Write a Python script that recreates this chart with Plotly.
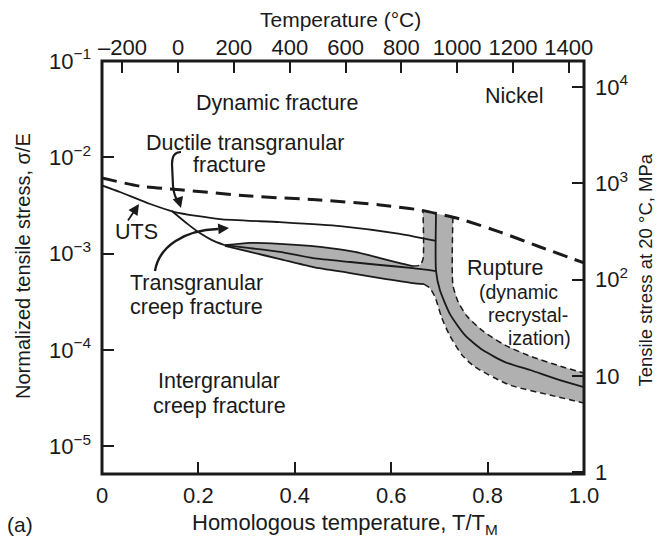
import plotly.graph_objects as go

# ---- values: x = T/T_M, y = sigma/E ----
# dynamic-fracture boundary (thick dashed)
dyn_x = [0.0, 0.079, 0.162, 0.307, 0.452, 0.577, 0.660, 0.743, 0.826, 0.909, 1.0]
dyn_y = [6.1e-3, 5.0e-3, 4.6e-3, 3.95e-3, 3.6e-3, 3.2e-3, 2.83e-3, 2.28e-3, 1.67e-3, 1.17e-3, 8.0e-4]

# UTS line
uts_x = [0.0, 0.037, 0.100, 0.151, 0.245, 0.369, 0.494, 0.618, 0.693]
uts_y = [5.1e-3, 4.36e-3, 3.27e-3, 2.70e-3, 2.28e-3, 2.12e-3, 1.93e-3, 1.60e-3, 1.35e-3]

# steep boundary into transgranular creep
tgc_x = [0.145, 0.178, 0.203, 0.228, 0.255]
tgc_y = [2.77e-3, 2.02e-3, 1.63e-3, 1.38e-3, 1.22e-3]

# shaded band: upper edge, middle line, lower edge
lens_top_x = [0.255, 0.307, 0.369, 0.432, 0.473, 0.525, 0.577, 0.618, 0.645]
lens_top_y = [1.22e-3, 1.29e-3, 1.26e-3, 1.20e-3, 1.14e-3, 1.04e-3, 8.97e-4, 7.96e-4, 7.41e-4]
mid_x = [0.255, 0.307, 0.369, 0.438, 0.515, 0.577, 0.645, 0.693]
mid_y = [1.22e-3, 1.14e-3, 1.04e-3, 8.97e-4, 8.17e-4, 7.60e-4, 7.06e-4, 6.58e-4]
base_x = [0.255, 0.307, 0.369, 0.438, 0.515, 0.577, 0.645, 0.668]
base_y = [1.20e-3, 1.04e-3, 8.77e-4, 7.24e-4, 6.27e-4, 5.56e-4, 4.94e-4, 4.82e-4]

# rupture band: left dashed wall, lower dashed, centre line, upper dashed
wall_x = [0.645, 0.660, 0.666, 0.666]
wall_y = [7.41e-4, 7.6e-4, 8.77e-4, 2.77e-3]
lowdash_x = [0.668, 0.680, 0.691, 0.705, 0.722, 0.747, 0.774, 0.846, 0.929, 1.0]
lowdash_y = [4.82e-4, 4.39e-4, 3.53e-4, 2.14e-4, 1.39e-4, 8.81e-5, 6.62e-5, 4.31e-5, 3.39e-5, 2.80e-5]
rup_x = [0.693, 0.693, 0.701, 0.722, 0.753, 0.790, 0.836, 0.888, 0.950, 1.0]
rup_y = [2.68e-3, 6.58e-4, 4.18e-4, 2.35e-4, 1.42e-4, 9.93e-5, 7.46e-5, 6.17e-5, 4.85e-5, 4.10e-5]
updash_x = [0.728, 0.728, 0.739, 0.757, 0.790, 0.836, 0.888, 0.950, 1.0]
updash_y = [2.39e-3, 4.71e-4, 3.13e-4, 2.24e-4, 1.57e-4, 1.12e-4, 8.61e-5, 6.78e-5, 5.73e-5]

# axes
x_ticks = [0, 0.2, 0.4, 0.6, 0.8, 1.0]
x_ticktext = ["0", "0.2", "0.4", "0.6", "0.8", "1.0"]
temp_c = [-200, 0, 200, 400, 600, 800, 1000, 1200, 1400]
temp_text = ["\u2013200", "0", "200", "400", "600", "800", "1000", "1200", "1400"]
T_MELT_K = 1728.0
y_ticks = [1e-5, 1e-4, 1e-3, 1e-2, 1e-1]
y_ticktext = ["10<sup>\u22125</sup>", "10<sup>\u22124</sup>", "10<sup>\u22123</sup>",
              "10<sup>\u22122</sup>", "10<sup>\u22121</sup>"]
mpa_ticks = [1, 10, 100, 1000, 10000]
mpa_ticktext = ["1", "10", "10<sup>2</sup>", "10<sup>3</sup>", "10<sup>4</sup>"]
LOG_E_MPA = 5.27
Y_RANGE = [-5.29, -1.0]

FONT = "Liberation Sans, Arial, sans-serif"
INK = "#1a1a1a"
GRAY = "#b0b0b0"

# page body has an 8px margin on every side; plot area in the reference, pixels
PAGE = 8
W, H = 663, 545
L, R, T, B = 102, 584, 61, 474


def px(xp):
    return (xp - L) / (R - L)


def py(yp):
    return (B - yp) / (B - T)


fig = go.Figure()

# shaded band polygon
gray_x = lens_top_x + wall_x[1:] + updash_x + lowdash_x[::-1] + base_x[::-1]
gray_y = lens_top_y + wall_y[1:] + updash_y + lowdash_y[::-1] + base_y[::-1]
fig.add_trace(go.Scatter(x=gray_x, y=gray_y, fill="toself", fillcolor=GRAY,
                         mode="none", hoverinfo="skip", showlegend=False))

solid = dict(color=INK, width=1.8, shape="spline", smoothing=0.6)
thin_dash = dict(color=INK, width=1.5, dash="6px,4px", shape="spline", smoothing=0.6)

fig.add_trace(go.Scatter(x=dyn_x, y=dyn_y, mode="lines", showlegend=False,
                         line=dict(color=INK, width=3, dash="15px,8px", shape="spline", smoothing=0.6)))
for xs, ys in [(uts_x, uts_y), (tgc_x, tgc_y), (lens_top_x, lens_top_y),
               (mid_x, mid_y), (base_x, base_y), (rup_x, rup_y)]:
    fig.add_trace(go.Scatter(x=xs, y=ys, mode="lines", line=solid, showlegend=False))
for xs, ys in [(wall_x, wall_y), (lowdash_x, lowdash_y), (updash_x, updash_y)]:
    fig.add_trace(go.Scatter(x=xs, y=ys, mode="lines", line=thin_dash, showlegend=False))

# invisible trace so the secondary axes draw
fig.add_trace(go.Scatter(x=[0.5], y=[100], xaxis="x2", yaxis="y2", mode="markers",
                         marker=dict(opacity=0), hoverinfo="skip", showlegend=False))

tick_common = dict(ticks="inside", ticklen=12, tickwidth=1.5, tickcolor=INK,
                   showgrid=False, zeroline=False, showline=False,
                   tickfont=dict(family=FONT, size=22, color=INK))

fig.update_layout(
    width=W - 2 * PAGE, height=H - 2 * PAGE, autosize=False,
    margin=dict(l=L - PAGE, r=W - PAGE - R, t=T - PAGE, b=H - PAGE - B, autoexpand=False),
    plot_bgcolor="white", paper_bgcolor="white",
    xaxis=dict(range=[0, 1], tickvals=x_ticks, ticktext=x_ticktext,
               ticklabelstandoff=6, **tick_common),
    xaxis2=dict(range=[0, 1], overlaying="x", side="top", anchor="y",
                tickvals=[(t + 273.15) / T_MELT_K for t in temp_c], ticktext=temp_text,
                ticklabelstandoff=1, **tick_common),
    yaxis=dict(type="log", range=Y_RANGE, tickvals=y_ticks, ticktext=y_ticktext,
               ticklabelstandoff=10, **tick_common),
    yaxis2=dict(type="log", overlaying="y", side="right", anchor="x",
                range=[Y_RANGE[0] + LOG_E_MPA, Y_RANGE[1] + LOG_E_MPA],
                tickvals=mpa_ticks, ticktext=mpa_ticktext, ticklabelstandoff=10,
                **tick_common),
    shapes=[
        dict(type="rect", xref="paper", yref="paper", x0=0, y0=0, x1=1, y1=1,
             line=dict(color=INK, width=3), layer="above"),
        # curly arrow from "Ductile transgranular fracture"
        dict(type="path", xref="paper", yref="paper", line=dict(color=INK, width=2.2),
             path=f"M {px(181)},{py(152)} Q {px(172)},{py(152)} {px(172)},{py(164)} "
                  f"L {px(173)},{py(186)} Q {px(174)},{py(197)} {px(179)},{py(203)}"),
        # curved arrow from "Transgranular creep fracture"
        dict(type="path", xref="paper", yref="paper", line=dict(color=INK, width=2.4),
             path=f"M {px(155)},{py(271)} C {px(159)},{py(246)} {px(185)},{py(230)} "
                  f"{px(218)},{py(229)}"),
    ],
)

txt = dict(family=FONT, size=21.5, color=INK)
small = dict(family=FONT, size=19.5, color=INK)
labels = [
    ("Dynamic fracture", 277, 103, txt),
    ("Nickel", 514, 96, txt),
    ("Ductile transgranular", 245, 143, txt),
    ("fracture", 229, 165, txt),
    ("UTS", 136, 232, txt),
    ("Transgranular", 196, 283, txt),
    ("creep fracture", 196, 307, txt),
    ("Intergranular", 219, 381, txt),
    ("creep fracture", 219, 406, txt),
    ("Rupture", 505, 268, txt),
    ("(dynamic", 518, 292, small),
    ("recrystal-", 528, 315, small),
    ("ization)", 539, 338, small),
    ("Temperature (\u00b0C)", 340, 19, dict(family=FONT, size=21, color=INK)),
    ("Homologous temperature, T/T<sub>M</sub>", 345, 524, dict(family=FONT, size=22, color=INK)),
    ("(a)", 20, 524, dict(family=FONT, size=21, color=INK)),
]
for text, xp, yp, f in labels:
    fig.add_annotation(text=text, x=px(xp), y=py(yp), xref="paper", yref="paper",
                       showarrow=False, font=f, xanchor="center", yanchor="middle")

fig.add_annotation(text="Normalized tensile stress, \u03c3/E", x=px(10), y=py(266),
                   xref="paper", yref="paper", showarrow=False, textangle=-90,
                   font=dict(family=FONT, size=20, color=INK))
fig.add_annotation(text="Tensile stress at 20 \u00b0C, MPa", x=px(657), y=py(270),
                   xref="paper", yref="paper", showarrow=False, textangle=-90,
                   font=dict(family=FONT, size=18.5, color=INK))

# arrow heads
for tip, tail in [((181, 208), (-3, -10)), ((139, 204), (-12, 18)), ((229, 228), (-12, 1))]:
    fig.add_annotation(x=px(tip[0]), y=py(tip[1]), xref="paper", yref="paper",
                       ax=tail[0], ay=tail[1], text="", showarrow=True,
                       arrowhead=2, arrowsize=1.2, arrowwidth=1.8, arrowcolor=INK)

fig.write_html("out.html")
